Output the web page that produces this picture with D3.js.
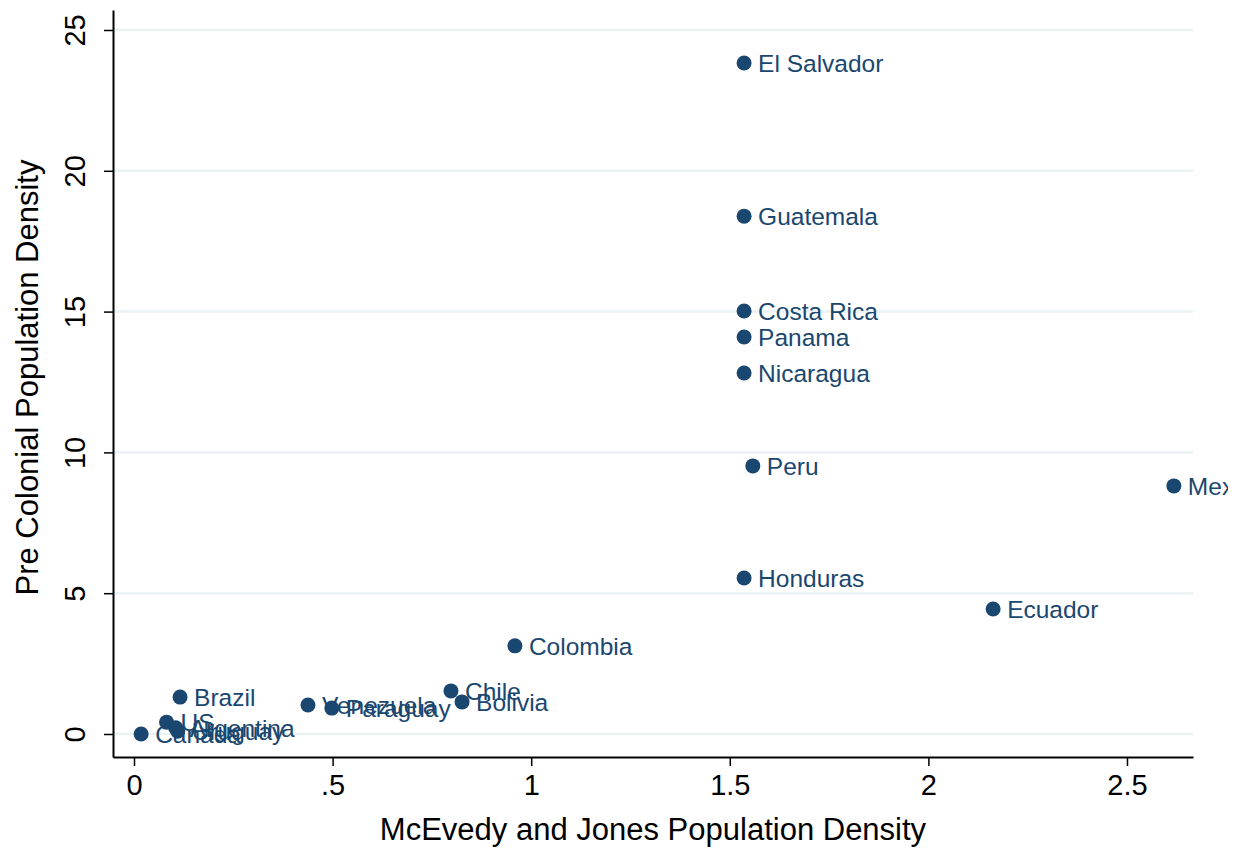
<!DOCTYPE html>
<html>
<head>
<meta charset="utf-8">
<script src="https://cdn.jsdelivr.net/npm/d3@7"></script>
<style>
  html, body { margin: 0; padding: 0; background: #fff; }
  svg { display: block; font-family: "Liberation Sans", Arial, Helvetica, sans-serif; }
</style>
</head>
<body>
<svg id="chart" width="1245" height="853"></svg>
<script>
// Countries and their two population density measures
const countries = ["El Salvador", "Guatemala", "Costa Rica", "Panama", "Nicaragua", "Peru", "Mexico",
  "Honduras", "Ecuador", "Colombia", "Chile", "Bolivia", "Venezuela", "Paraguay", "Brazil",
  "US", "Argentina", "Uruguay", "Canada"];
const mcEvedyJones = [1.536, 1.536, 1.536, 1.536, 1.536, 1.558, 2.618,
  1.536, 2.163, 0.959, 0.798, 0.826, 0.438, 0.498, 0.116,
  0.082, 0.105, 0.11, 0.018];
const preColonial = [23.83, 18.39, 15.02, 14.10, 12.82, 9.52, 8.81,
  5.54, 4.44, 3.13, 1.53, 1.14, 1.03, 0.92, 1.31,
  0.42, 0.22, 0.10, 0.0];

const xTicks = [0, 0.5, 1, 1.5, 2, 2.5];
const xTickLabels = ["0", ".5", "1", "1.5", "2", "2.5"];
const yTicks = [0, 5, 10, 15, 20, 25];

const xTitle = "McEvedy and Jones Population Density";
const yTitle = "Pre Colonial Population Density";

const navy = "#1a476f";
const plot = { left: 113, right: 1193, top: 10, bottom: 757 };
const graphRight = 1228; // outer edge of the graph region; marker labels stop here

const svg = d3.select("#chart");

svg.append("defs").append("clipPath").attr("id", "graph-region")
  .append("rect").attr("x", 0).attr("y", 0).attr("width", graphRight).attr("height", 853);

const x = d3.scaleLinear().domain([-0.05287, 2.6662]).range([plot.left, plot.right]);
const y = d3.scaleLinear().domain([-0.817, 25.71]).range([plot.bottom, plot.top]);

// horizontal gridlines
svg.append("g")
  .selectAll("line")
  .data(yTicks)
  .join("line")
  .attr("x1", plot.left).attr("x2", plot.right)
  .attr("y1", d => y(d)).attr("y2", d => y(d))
  .attr("stroke", "#eaf2f3").attr("stroke-width", 2.5);

// x axis
const xAxis = svg.append("g")
  .attr("transform", `translate(0,${plot.bottom})`)
  .call(d3.axisBottom(x).tickValues(xTicks)
    .tickFormat((d, i) => xTickLabels[i]).tickSize(9).tickSizeOuter(0).tickPadding(8));
xAxis.select(".domain").attr("stroke", "#000").attr("stroke-width", 2);
xAxis.selectAll(".tick line").attr("stroke", "#000").attr("stroke-width", 1.5);
xAxis.selectAll(".tick text").attr("font-size", 29).attr("fill", "#000")
  .attr("font-family", "Liberation Sans, Arial, sans-serif");

// y axis
const yAxis = svg.append("g")
  .attr("transform", `translate(${plot.left},0)`)
  .call(d3.axisLeft(y).tickValues(yTicks).tickSize(9).tickSizeOuter(0).tickPadding(8));
yAxis.select(".domain").attr("stroke", "#000").attr("stroke-width", 2);
yAxis.selectAll(".tick line").attr("stroke", "#000").attr("stroke-width", 1.5);
yAxis.selectAll(".tick text")
  .attr("font-size", 29).attr("fill", "#000")
  .attr("font-family", "Liberation Sans, Arial, sans-serif")
  .attr("x", null).attr("dy", null)
  .attr("text-anchor", "middle")
  .attr("transform", "translate(-28,0) rotate(-90)");

// axis titles
svg.append("text")
  .attr("x", (plot.left + plot.right) / 2).attr("y", 840)
  .attr("text-anchor", "middle").attr("font-size", 31).attr("fill", "#000")
  .text(xTitle);
svg.append("text")
  .attr("transform", `translate(38,${(plot.top + plot.bottom) / 2 - 6}) rotate(-90)`)
  .attr("text-anchor", "middle").attr("font-size", 31).attr("fill", "#000")
  .text(yTitle);

// points with labels
const pts = countries.map((c, i) => ({ name: c, x: mcEvedyJones[i], y: preColonial[i] }));
const g = svg.append("g").attr("clip-path", "url(#graph-region)");
g.selectAll("circle")
  .data(pts)
  .join("circle")
  .attr("cx", d => x(d.x)).attr("cy", d => y(d.y))
  .attr("r", 7.5).attr("fill", navy);
g.selectAll("text")
  .data(pts)
  .join("text")
  .attr("x", d => x(d.x) + 14).attr("y", d => y(d.y))
  .attr("dy", "0.36em")
  .attr("font-size", 24.5).attr("fill", navy)
  .text(d => d.name);
</script>
</body>
</html>
